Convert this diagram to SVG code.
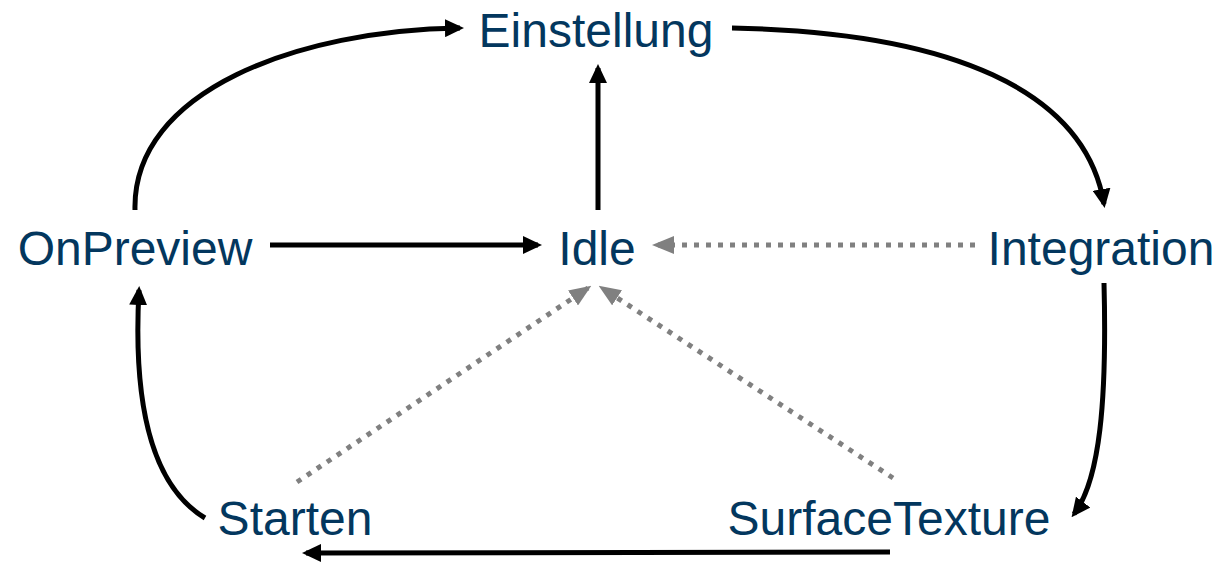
<svg xmlns="http://www.w3.org/2000/svg" width="1219" height="567" viewBox="0 0 1219 567">
<defs>
<style>
.lbl{font-family:"Liberation Sans",Arial,sans-serif;font-size:48px;fill:#03375E;text-anchor:middle}
.solid{fill:none;stroke:#000;stroke-width:5}
.dot{fill:none;stroke:#808080;stroke-width:5;stroke-dasharray:5 7}
</style>
<marker id="ab" markerUnits="userSpaceOnUse" markerWidth="19" markerHeight="18" refX="15" refY="9" orient="auto" viewBox="0 0 19 18">
<path d="M0,0 L19,9 L0,18 z" fill="#000"/>
</marker>
<marker id="ag" markerUnits="userSpaceOnUse" markerWidth="22" markerHeight="18" refX="18" refY="9" orient="auto" viewBox="0 0 22 18">
<path d="M0,0 L22,9 L0,18 z" fill="#808080"/>
</marker>
</defs>
<g id="connectors">
<path class="solid" marker-end="url(#ab)" d="M135,210 C132,90 300,30 460,28"/>
<path class="solid" marker-end="url(#ab)" d="M732,28 C950,32 1085,90 1104,204"/>
<path class="solid" marker-end="url(#ab)" d="M1104,283 C1107,400 1100,480 1074,514"/>
<path class="solid" marker-end="url(#ab)" d="M890,552 L306,553"/>
<path class="solid" marker-end="url(#ab)" d="M205,518 C150,485 133,400 139,290"/>
<path class="solid" marker-end="url(#ab)" d="M270,245 L538,245"/>
<path class="solid" marker-end="url(#ab)" d="M598,210 L598,68"/>
<path class="dot" marker-end="url(#ag)" d="M975,245 L656,245"/>
<path class="dot" marker-end="url(#ag)" d="M297,482 L588,288"/>
<path class="dot" marker-end="url(#ag)" d="M893,478 L602,288"/>
</g>
<g id="einstellung"><text class="lbl" x="596" y="47">Einstellung</text></g>
<g id="onpreview"><text class="lbl" x="135" y="265">OnPreview</text></g>
<g id="idle"><text class="lbl" x="597" y="265">Idle</text></g>
<g id="integration"><text class="lbl" x="1101" y="265">Integration</text></g>
<g id="starten"><text class="lbl" x="295" y="535">Starten</text></g>
<g id="surfacetexture"><text class="lbl" x="889" y="535">SurfaceTexture</text></g>
</svg>
